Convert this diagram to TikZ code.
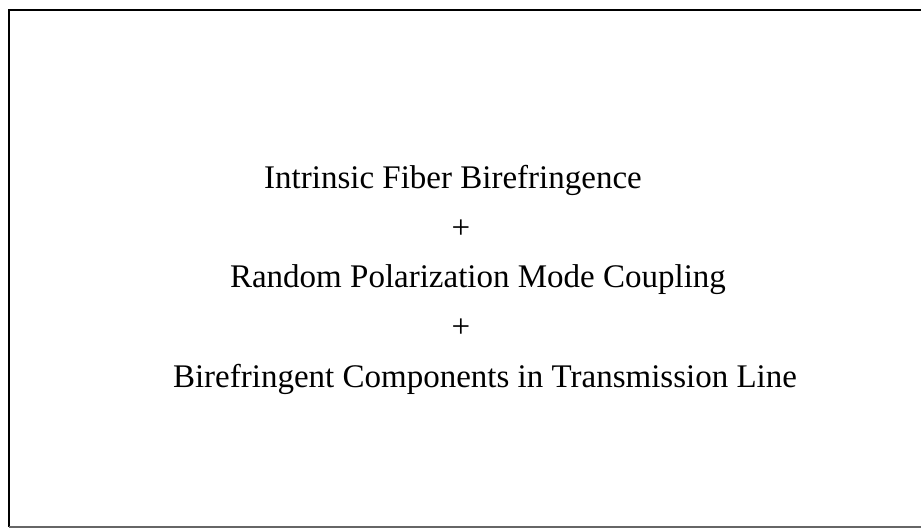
\documentclass[tikz,border=0pt]{standalone}
\usepackage{fontspec}
\setmainfont{Liberation Serif}
\usetikzlibrary{positioning}
\tikzstyle{term} = [inner sep=0pt, text height=23pt, text depth=7pt,
    font=\fontsize{33}{40}\selectfont]
\tikzstyle{frame} = [black, line width=2.5pt]

\begin{document}
\begin{tikzpicture}[node distance = 49.5pt]
  \useasboundingbox (0,0) rectangle (921pt,-529pt);
  % Place nodes
  \node [term, anchor=base] (intrinsic) at (453pt,-189pt)
  {Intrinsic Fiber Birefringence};
  \node [term, below of=intrinsic, xshift=8pt] (plusone) {+};
  \node [term, below of=plusone, xshift=17pt] (random)
  {Random Polarization Mode Coupling};
  \node [term, below of=random, xshift=-17pt] (plustwo) {+};
  \node [term, below of=plustwo, xshift=24pt] (components)
  {Birefringent Components in Transmission Line};
  % Draw frame
  \draw [frame] (921pt,-10pt) -- (9pt,-10pt) -- (9pt,-527pt);
  \draw [black!60, line width=1.5pt] (9pt,-527pt) -- (921pt,-527pt);
\end{tikzpicture}
\end{document}
